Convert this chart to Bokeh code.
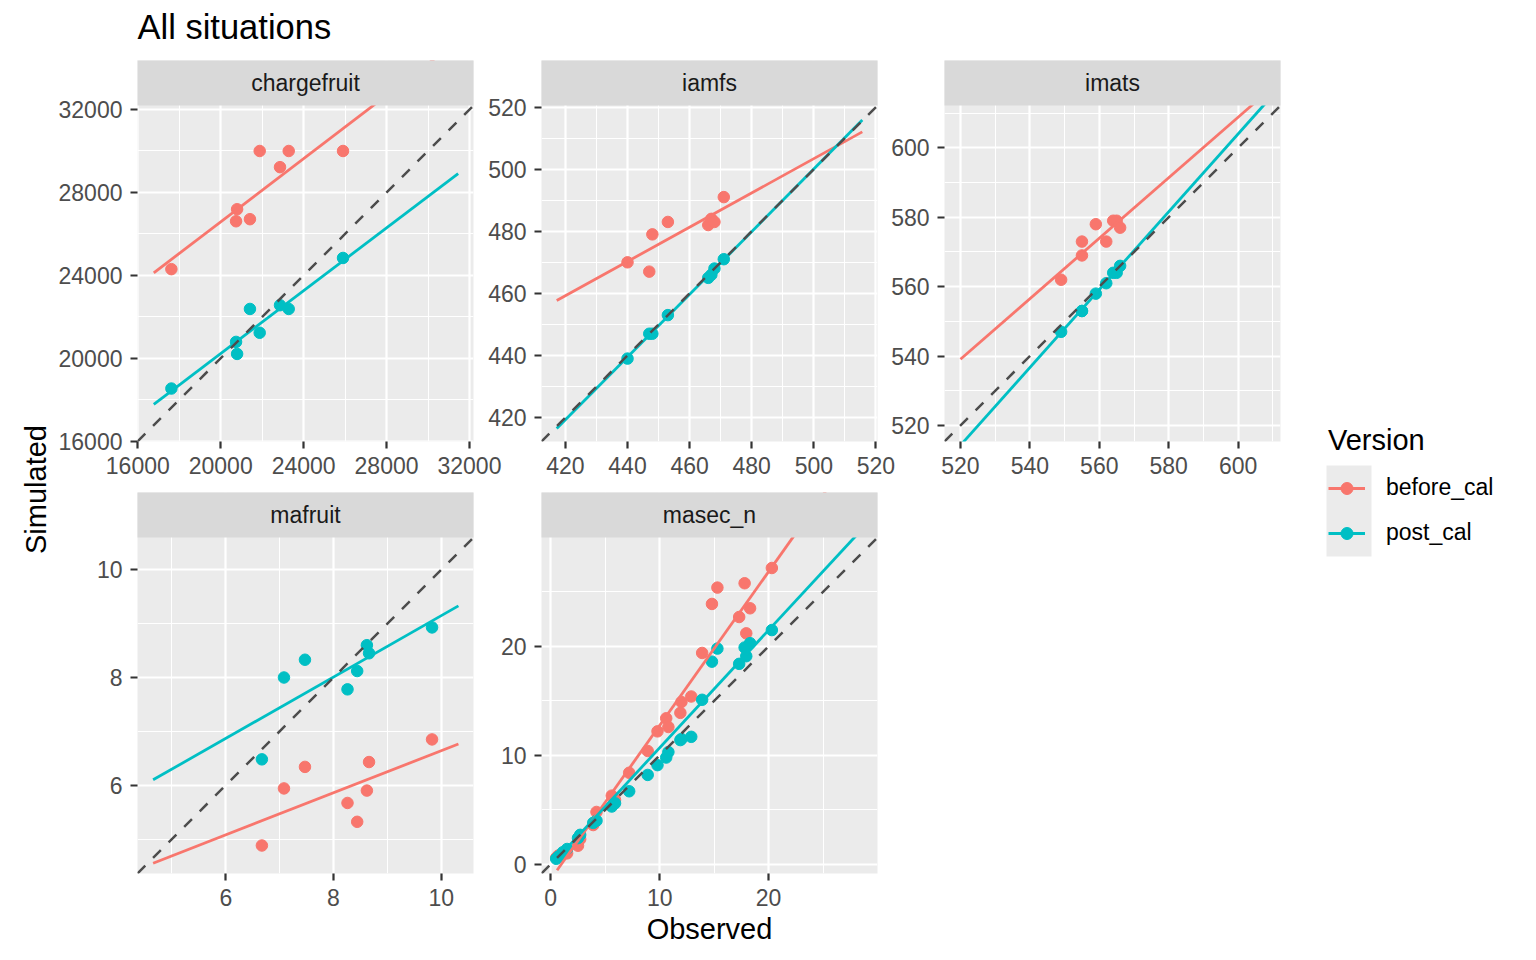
import math
from bokeh.plotting import figure
from bokeh.models import (Range1d, FixedTicker, LinearAxis, Grid, Legend,
                          LegendItem, ColumnDataSource)
from bokeh.layouts import row, column
from bokeh.embed import file_html
from bokeh.resources import INLINE
from bokeh.core.properties import value

# ------------------------------------------------------------------ data
panel_names = ["chargefruit", "iamfs", "imats", "mafruit", "masec_n"]
version_names = ["before_cal", "post_cal"]
title_text = "All situations"
x_title = "Observed"
y_title = "Simulated"
legend_title = "Version"

chargefruit_obs = [17620, 20740, 20790, 21410, 21880, 22860, 23280, 25900]
chargefruit_before = [24300, 26610, 27190, 26710, 30000, 29220, 30000, 30000]
chargefruit_post = [18540, 20790, 20210, 22380, 21230, 22560, 22380, 24840]
chargefruit_fit_x = [16770, 31455]
chargefruit_fit_before = [24120, 35320]
chargefruit_fit_post = [17780, 28910]
chargefruit_limits = [15985, 32195]
chargefruit_ticks = [16000, 20000, 24000, 28000, 32000]
chargefruit_minor = [18000, 22000, 26000, 30000]

iamfs_obs = [440, 447, 448, 453, 466, 467, 468, 471]
iamfs_before = [470, 467, 479, 483, 482, 484, 483, 491]
iamfs_post = [439, 447, 447, 453, 465, 466, 468, 471]
iamfs_fit_x = [417.2, 515.6]
iamfs_fit_before = [457.7, 512.0]
iamfs_fit_post = [416.5, 515.8]
iamfs_limits = [412.3, 520.5]
iamfs_ticks = [420, 440, 460, 480, 500, 520]
iamfs_minor = [410, 430, 450, 470, 490, 510]

imats_obs = [549, 555, 555, 559, 562, 564, 565, 566]
imats_before = [562, 573, 569, 578, 573, 579, 579, 577]
imats_post = [547, 553, 553, 558, 561, 564, 564, 566]
imats_fit_x = [520, 608]
imats_fit_before = [539.1, 615.8]
imats_fit_post = [514.3, 613.0]
imats_limits = [515.4, 612.2]
imats_ticks = [520, 540, 560, 580, 600]
imats_minor = [510, 530, 550, 570, 590, 610]

mafruit_obs = [6.67, 7.08, 7.47, 8.26, 8.44, 8.62, 8.66, 9.83]
mafruit_before = [4.88, 5.94, 6.34, 5.67, 5.32, 5.90, 6.43, 6.85]
mafruit_post = [6.48, 8.00, 8.33, 7.78, 8.12, 8.60, 8.45, 8.93]
mafruit_fit_x = [4.65, 10.32]
mafruit_fit_before = [4.55, 6.765]
mafruit_fit_post = [6.10, 9.33]
mafruit_limits = [4.36, 10.6]
mafruit_ticks = [6, 8, 10]
mafruit_minor = [5, 7, 9]

masec_n_obs = [0.5, 0.7, 1.1, 1.5, 2.5, 2.7, 3.9, 4.2, 5.6, 5.9, 7.2, 8.9, 9.8,
               10.6, 10.8, 11.9, 12.0, 12.9, 13.9, 14.8, 15.3, 17.3, 17.8, 17.95,
               18.3, 20.3]
masec_n_before = [0.6, 0.8, 0.9, 1.0, 1.7, 2.3, 3.6, 4.8, 6.3, 5.9, 8.4, 10.4, 12.2,
                  13.4, 12.6, 13.9, 14.9, 15.4, 19.4, 23.9, 25.4, 22.7, 25.8, 21.2,
                  23.5, 27.2]
masec_n_post = [0.5, 0.7, 1.1, 1.4, 2.4, 2.7, 3.8, 4.0, 5.3, 5.6, 6.7, 8.2, 9.1,
                9.8, 10.3, 11.4, 11.5, 11.7, 15.1, 18.6, 19.8, 18.4, 19.9, 19.1,
                20.3, 21.5]
masec_n_fit_x = [0.58, 28.6]
masec_n_fit_before = [-0.55, 39.0]
masec_n_fit_post = [0.52, 30.78]
masec_n_limits = [-0.85, 30.0]
masec_n_ticks = [0, 10, 20]
masec_n_minor = [5, 15, 25]

panels = {
    "chargefruit": dict(obs=chargefruit_obs, sims=[chargefruit_before, chargefruit_post],
                        fit_x=chargefruit_fit_x, fits=[chargefruit_fit_before, chargefruit_fit_post],
                        lim=chargefruit_limits, ticks=chargefruit_ticks, minor=chargefruit_minor),
    "iamfs": dict(obs=iamfs_obs, sims=[iamfs_before, iamfs_post],
                  fit_x=iamfs_fit_x, fits=[iamfs_fit_before, iamfs_fit_post],
                  lim=iamfs_limits, ticks=iamfs_ticks, minor=iamfs_minor),
    "imats": dict(obs=imats_obs, sims=[imats_before, imats_post],
                  fit_x=imats_fit_x, fits=[imats_fit_before, imats_fit_post],
                  lim=imats_limits, ticks=imats_ticks, minor=imats_minor),
    "mafruit": dict(obs=mafruit_obs, sims=[mafruit_before, mafruit_post],
                    fit_x=mafruit_fit_x, fits=[mafruit_fit_before, mafruit_fit_post],
                    lim=mafruit_limits, ticks=mafruit_ticks, minor=mafruit_minor),
    "masec_n": dict(obs=masec_n_obs, sims=[masec_n_before, masec_n_post],
                    fit_x=masec_n_fit_x, fits=[masec_n_fit_before, masec_n_fit_post],
                    lim=masec_n_limits, ticks=masec_n_ticks, minor=masec_n_minor),
}

# ------------------------------------------------------------------ style
FONT = "Liberation Sans"
COLORS = ["#F8766D", "#00BFC4"]
PANEL_BG = "#EBEBEB"
STRIP_BG = "#D9D9D9"
FW = 336          # panel width (px)
FH = 336          # panel height (px)
SH = 45           # facet strip height (px)


def new_fig(fw, fh, xr, yr, left=0, right=0, top=0, bottom=0):
    p = figure(frame_width=fw, frame_height=fh, x_range=xr, y_range=yr,
               x_axis_type=None, y_axis_type=None,
               output_backend="svg", toolbar_location=None,
               min_border_left=left, min_border_right=right,
               min_border_top=top, min_border_bottom=bottom)
    p.outline_line_color = None
    p.border_fill_color = "white"
    p.border_fill_alpha = 0
    p.background_fill_color = "white"
    return p


def style_axis(ax, standoff):
    ax.axis_line_color = None
    ax.major_tick_line_color = "#333333"
    ax.major_tick_line_width = 2.2
    ax.major_tick_out = 7
    ax.major_tick_in = 0
    ax.minor_tick_line_color = None
    ax.major_label_standoff = standoff
    ax.major_label_text_font = FONT
    ax.major_label_text_font_size = "23px"
    ax.major_label_text_color = "#4D4D4D"


border_left = [86, 68, 67, 86, 68]
border_right = [30, 22, 19, 30, 22]
border_bottom = [51, 51, 51, 78, 78]
overlap_left = [0, -30, -22, 0, -30]

figs = []
for i, name in enumerate(panel_names):
    d = panels[name]
    lo, hi = d["lim"]
    ext = SH / FH * (hi - lo)           # strip height expressed in data units
    p = new_fig(FW, FH + SH, Range1d(lo, hi), Range1d(lo, hi + ext),
                left=border_left[i], right=border_right[i], bottom=border_bottom[i])
    p.background_fill_color = PANEL_BG
    if overlap_left[i]:
        p.margin = (0, 0, 0, overlap_left[i])

    for dim in (0, 1):
        p.add_layout(Grid(dimension=dim,
                          ticker=FixedTicker(ticks=d["ticks"], minor_ticks=d["minor"]),
                          grid_line_color="white", grid_line_width=2.2,
                          minor_grid_line_color="white", minor_grid_line_width=1.1))

    ay = LinearAxis(ticker=FixedTicker(ticks=d["ticks"]))
    style_axis(ay, 8)
    p.add_layout(ay, "left")
    ax = LinearAxis(ticker=FixedTicker(ticks=d["ticks"]))
    style_axis(ax, 8)
    if i == 4:
        ax.axis_label = x_title
        ax.axis_label_text_font = FONT
        ax.axis_label_text_font_size = "29px"
        ax.axis_label_text_font_style = "normal"
        ax.axis_label_text_color = "black"
        ax.axis_label_standoff = 4
    p.add_layout(ax, "below")

    for k in range(2):
        src = ColumnDataSource(dict(x=d["obs"], y=d["sims"][k]))
        p.scatter("x", "y", source=src, size=11.5, color=COLORS[k])
    for k in range(2):
        p.line(d["fit_x"], d["fits"][k], line_width=2.8, line_color=COLORS[k])
    # 1:1 reference line across the panel limits
    p.line([lo, hi], [lo, hi], line_color="#4D4D4D", line_width=2.5, line_dash="11 11")

    # facet strip on top of the panel (extends past the frame so it hides overflow)
    p.quad(left=[lo - ext], right=[hi + ext], bottom=[hi], top=[hi + 2 * ext],
           fill_color=STRIP_BG, line_color=None)
    p.text(x=[(lo + hi) / 2], y=[hi + ext / 2], text=[name], text_align="center",
           text_baseline="middle", text_font=value(FONT), text_font_size=value("23px"),
           text_color="#1A1A1A")
    figs.append(p)

grid = column(row(*figs[:3]), row(*figs[3:]))

H = 891

# y title column
lf = new_fig(51, H, Range1d(0, 51), Range1d(0, H))
lf.text(x=[35], y=[462], text=[y_title], angle=math.pi / 2, text_align="center",
        text_baseline="middle", text_font=value(FONT), text_font_size=value("29px"),
        text_color="black")

# legend column
lg = new_fig(228, H, Range1d(0, 228), Range1d(0, H))
lg.quad(left=[27], right=[72], bottom=[395], top=[486], fill_color=PANEL_BG, line_color=None)
items = []
for k in range(2):
    # reuse real panel data; it lies outside this column's ranges so only the key shows
    rl = lg.line(chargefruit_fit_x, panels["chargefruit"]["fits"][k],
                 line_color=COLORS[k], line_width=2.8)
    rc = lg.scatter(chargefruit_obs, panels["chargefruit"]["sims"][k],
                    color=COLORS[k], size=11.5)
    items.append(LegendItem(label=version_names[k], renderers=[rl, rc]))
legend = Legend(items=items, location=(29, 403.5), title=legend_title,
                title_text_font=FONT, title_text_font_size="29px",
                title_text_font_style="normal", title_text_color="black",
                title_standoff=16,
                label_text_font=FONT, label_text_font_size="23px", label_text_color="black",
                glyph_width=37, glyph_height=30, label_height=30, label_standoff=21,
                spacing=15, padding=0, margin=0, border_line_color=None,
                background_fill_alpha=0)
lg.add_layout(legend)

# title row
tf = new_fig(1527, 60, Range1d(0, 1527), Range1d(0, 60))
tf.text(x=[137], y=[33.3], text=[title_text], text_align="left", text_baseline="middle",
        text_font=value(FONT), text_font_size=value("34.5px"), text_color="black")

layout = column(tf, row(lf, grid, lg))

open("out.html", "w").write(file_html(layout, INLINE))
